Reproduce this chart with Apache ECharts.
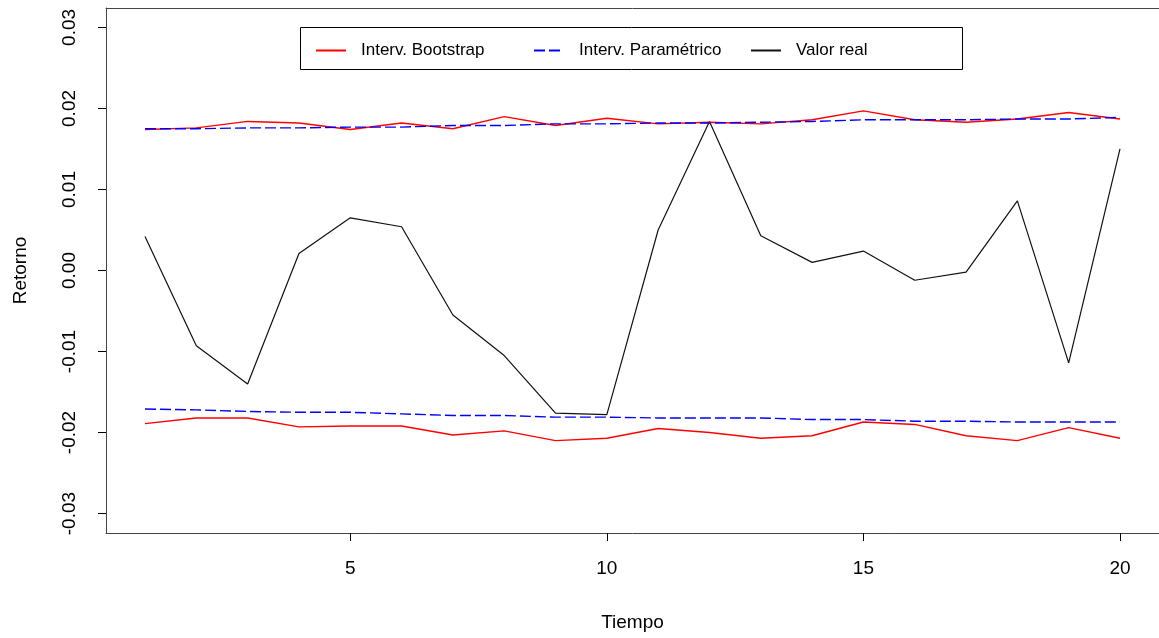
<!DOCTYPE html>
<html>
<head>
<meta charset="utf-8">
<script src="https://cdn.jsdelivr.net/npm/echarts@6/dist/echarts.min.js"></script>
<style>
html,body{margin:0;padding:0;background:#fff;}
#c{width:1159px;height:638px;}
</style>
</head>
<body>
<div id="c"></div>
<script>
const tiempo = [1,2,3,4,5,6,7,8,9,10,11,12,13,14,15,16,17,18,19,20];
const valorReal = [0.0042,-0.0093,-0.0140,0.0021,0.0065,0.0054,-0.0055,-0.0105,-0.0176,-0.0178,0.0050,0.0184,0.0043,0.0010,0.0024,-0.0012,-0.0002,0.0086,-0.0114,0.0150];
const bootSup = [0.0174,0.0176,0.0184,0.0182,0.0174,0.0182,0.0175,0.0190,0.0179,0.0188,0.0181,0.0183,0.0181,0.0186,0.0197,0.0186,0.0183,0.0187,0.0195,0.0187];
const bootInf = [-0.0189,-0.0182,-0.0182,-0.0193,-0.0192,-0.0192,-0.0203,-0.0198,-0.0210,-0.0207,-0.0195,-0.0200,-0.0207,-0.0204,-0.0187,-0.0190,-0.0204,-0.0210,-0.0194,-0.0207];
const paramSup = [0.0175,0.0175,0.0176,0.0176,0.0177,0.0177,0.0179,0.0179,0.0181,0.0181,0.0182,0.0182,0.0183,0.0184,0.0186,0.0186,0.0186,0.0187,0.0187,0.0189];
const paramInf = [-0.0171,-0.0172,-0.0174,-0.0175,-0.0175,-0.0177,-0.0179,-0.0179,-0.0181,-0.0181,-0.0182,-0.0182,-0.0182,-0.0184,-0.0184,-0.0186,-0.0186,-0.0187,-0.0187,-0.0187];
const xTicks = [5,10,15,20];
const yTicks = [-0.03,-0.02,-0.01,0,0.01,0.02,0.03];
const names = ['Interv. Bootstrap','Interv. Paramétrico','Valor real'];

const pair = arr => tiempo.map((t,i)=>[t,arr[i]]);
const FONT = "'Liberation Sans', Arial, sans-serif";
const BORDER = '#444';

const chart = echarts.init(document.getElementById('c'), null, {renderer:'canvas'});

function mk(name, arr, color, dashed, w){
  return {
    name: name, type:'line', data: pair(arr), symbol:'none', animation:false,
    xAxisIndex:0, yAxisIndex:0,
    lineStyle:{color:color, width:w, type: dashed ? [11,4] : 'solid'},
    itemStyle:{color:color}
  };
}

function legendAt(name, left){
  return {
    data:[name], left:left, top:42, padding:0, itemWidth:30, itemHeight:16,
    selectedMode:false,
    itemStyle:{opacity:0},
    textStyle:{fontFamily:FONT, fontSize:17, color:'#000', padding:[0,0,0,10]}
  };
}

chart.setOption({
  animation:false,
  backgroundColor:'#fff',
  grid:{left:106, top:8, width:1055, height:525, show:false, containLabel:false},
  xAxis:[{
    type:'value', min:0.24, max:20.76, position:'bottom',
    name:'Tiempo', nameLocation:'middle', nameGap:80,
    nameTextStyle:{fontFamily:FONT, fontSize:19, color:'#000', verticalAlign:'top'},
    axisLine:{show:true, onZero:false, lineStyle:{color:BORDER, width:1}},
    splitLine:{show:false},
    axisTick:{show:true, customValues:xTicks, length:8, lineStyle:{color:'#000'}},
    axisLabel:{customValues:xTicks, margin:26, fontFamily:FONT, fontSize:19, color:'#000', verticalAlign:'top'}
  },{
    type:'value', min:0.24, max:20.76, position:'top',
    axisLine:{show:true, onZero:false, lineStyle:{color:BORDER, width:1}},
    splitLine:{show:false}, axisTick:{show:false}, axisLabel:{show:false}
  }],
  yAxis:{
    type:'value', min:-0.0324, max:0.0324,
    name:'Retorno', nameLocation:'middle', nameGap:76,
    nameTextStyle:{fontFamily:FONT, fontSize:19, color:'#000'},
    axisLine:{show:true, onZero:false, lineStyle:{color:BORDER, width:1}},
    splitLine:{show:false},
    axisTick:{show:true, customValues:yTicks, length:8, lineStyle:{color:'#000'}},
    axisLabel:{customValues:yTicks, rotate:90, margin:27, fontFamily:FONT, fontSize:19, color:'#000',
      formatter: v => Number(v).toFixed(2)}
  },
  legend:[legendAt(names[0],315), legendAt(names[1],533), legendAt(names[2],750)],
  graphic:[{type:'rect', shape:{x:300.5,y:27.5,width:662,height:42}, style:{fill:'none', stroke:'#000', lineWidth:1}, z:10}],
  series:[
    mk(names[2], valorReal, '#111111', false, 1.2),
    mk(names[0], bootSup, '#FF0000', false, 1.4),
    mk(names[0], bootInf, '#FF0000', false, 1.4),
    mk(names[1], paramSup, '#0000FF', true, 1.4),
    mk(names[1], paramInf, '#0000FF', true, 1.4)
  ]
});
</script>
</body>
</html>
